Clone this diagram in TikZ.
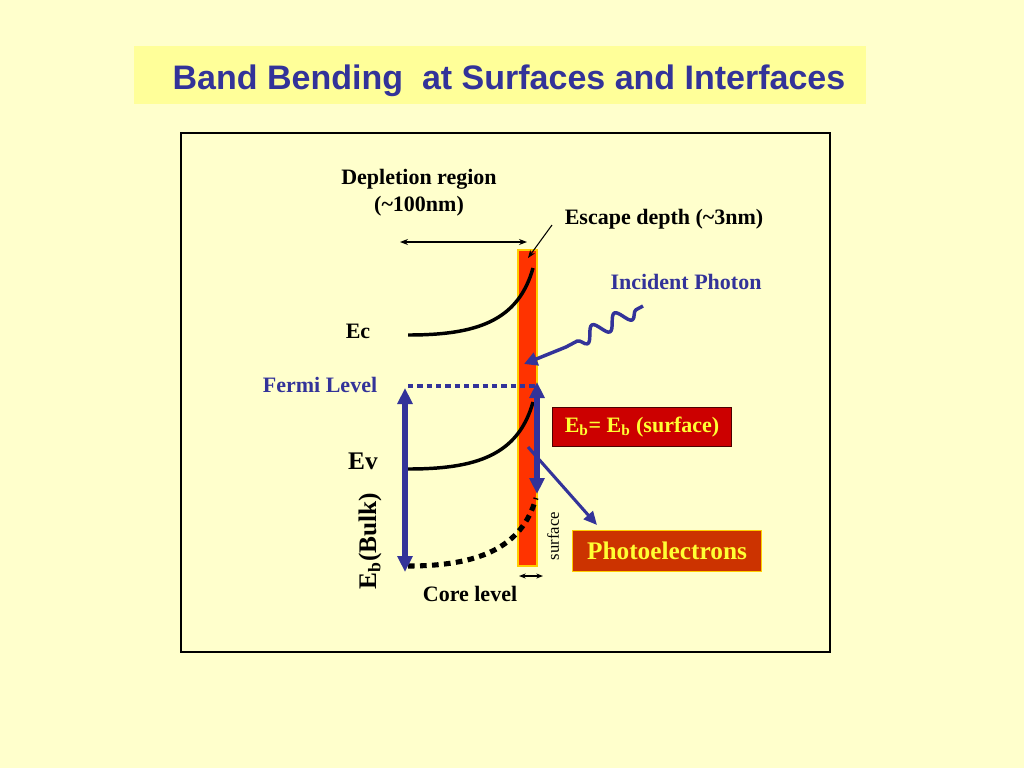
\documentclass[tikz,border=0pt]{standalone}
\usepackage{fontspec}
\setmainfont{Liberation Serif}
\newfontfamily\titlefont{Liberation Sans}
\usetikzlibrary{arrows.meta}
\usetikzlibrary{decorations.pathmorphing}
\definecolor{slidebg}{HTML}{FFFFCC}
\definecolor{titlebg}{HTML}{FFFF99}
\definecolor{navy}{HTML}{333399}
\definecolor{barred}{HTML}{FF3300}
\definecolor{bargold}{HTML}{FFCC00}
\definecolor{boxred}{HTML}{CC0000}
\definecolor{boxorange}{HTML}{CC3300}
\definecolor{boxtext}{HTML}{FFFF33}

\begin{document}
\begin{tikzpicture}[x=0.75pt,y=-0.75pt,
  lbl/.style={font=\fontsize{16.5}{20}\selectfont\bfseries},
  biglbl/.style={font=\fontsize{19}{21}\selectfont\bfseries},
  band/.style={line width=2.6pt},
  bigarrow/.style={navy, line width=4pt, {Triangle[length=12pt,width=11pt]}-{Triangle[length=12pt,width=11pt]}},
  thinarrow/.style={line width=0.8pt}]
\useasboundingbox (0,0) rectangle (1024,768);
%\draw[help lines, step=50] (0,0) grid (1024,768);
\fill[slidebg] (0,0) rectangle (1024,768);%background
\fill[titlebg] (134,46) rectangle (866,104);%title band
\node[navy, font=\titlefont\fontsize{25.5}{28}\selectfont\bfseries] (title) at (509,81) {Band Bending~~at Surfaces and Interfaces};
\draw[line width=2.2pt] (181,133) rectangle (830,652);%frame

\draw[fill=barred, draw=bargold, line width=0.8pt] (518,250) rectangle (537,566);%surface bar

% labels
\node[lbl, align=center] (depl) at (419,193) {Depletion region\\(\textasciitilde100nm)};
\node[lbl] (escape) at (664,219) {Escape depth (\textasciitilde3nm)};
\node[lbl, navy] (photon) at (686,282) {Incident Photon};
\node[lbl] (ec) at (358,331) {Ec};
\node[lbl, navy] (fermi) at (320,385) {Fermi Level};
\node[biglbl] (ev) at (363,461) {Ev};
\node[biglbl, rotate=90] (bulk) at (370,541) {E\textsubscript{b}(Bulk)};
\node[font=\fontsize{12.5}{14}\selectfont, rotate=90] (surf) at (553,536) {surface};
\node[lbl] (core) at (470,594) {Core level};
\node[lbl, boxtext, fill=boxred, draw=black!70!red, line width=0.8pt, minimum width=134pt, minimum height=29pt] (ebsurf) at (642,427) {E\textsubscript{b}= E\textsubscript{b} (surface)};
\node[biglbl, boxtext, fill=boxorange, draw=bargold, line width=1pt, minimum width=142pt, minimum height=31pt] (photoel) at (667,551) {Photoelectrons};

% bands
\draw[band] (408,335) .. controls (475,335) and (518,322) .. (533,268);%Ec
\draw[band] (408,469) .. controls (475,469) and (518,456) .. (533,402);%Ev
\draw[line width=3.8pt, dash pattern=on 5pt off 4pt] (408,566) .. controls (478,566) and (522,548) .. (536,498);%core level
\draw[navy, line width=2.4pt, dash pattern=on 4pt off 3pt] (408,386) -- (536,386);%fermi level

% arrows
\coordinate (dleft) at (400,242);
\coordinate (dright) at (527,242);
\draw[thinarrow, {Stealth[length=6pt]}-{Stealth[length=6pt]}] (dleft) -- (dright);
\coordinate (escfrom) at (552,225);
\coordinate (escto) at (528,258);
\draw[thinarrow, -{Stealth[length=6pt]}] (escfrom) -- (escto);
\coordinate (swl) at (519,576);
\coordinate (swr) at (543,576);
\draw[thinarrow, {Stealth[length=5pt]}-{Stealth[length=5pt]}] (swl) -- (swr);

\coordinate (bulktop) at (405,388);
\coordinate (bulkbot) at (405,572);
\draw[bigarrow] (bulktop) -- (bulkbot);%Eb bulk
\coordinate (surftop) at (537,382);
\coordinate (surfbot) at (537,494);
\draw[bigarrow] (surftop) -- (surfbot);%Eb surface

\coordinate (phstart) at (643,306);
\coordinate (phmid) at (566,347);
\coordinate (phtip) at (524,364);
\draw[navy, line width=2.6pt, line join=round, -{Triangle[length=10pt,width=10pt]}]
  (phstart) decorate[decoration={snake, amplitude=5.5pt, segment length=19pt, pre length=6pt, post length=2pt}] {-- (phmid)} -- (phtip);%photon

\coordinate (elstart) at (528,447);
\coordinate (elend) at (597,525);
\draw[navy, line width=2.3pt, -{Triangle[length=10pt,width=9pt]}] (elstart) -- (elend);%photoelectron
\end{tikzpicture}
\end{document}
